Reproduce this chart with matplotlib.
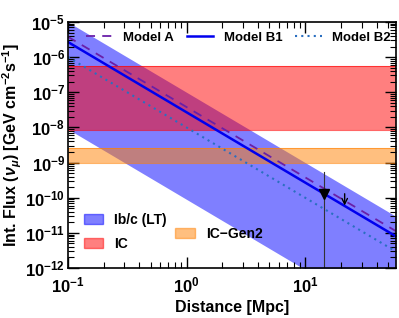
import numpy as np
import matplotlib
matplotlib.use("Agg")
import matplotlib.pyplot as plt
from matplotlib.patches import Patch
from matplotlib.lines import Line2D

plt.rcParams['font.family'] = ['Liberation Sans', 'DejaVu Sans']
plt.rcParams['font.weight'] = 'bold'
plt.rcParams['mathtext.fontset'] = 'custom'
plt.rcParams['mathtext.rm'] = 'Liberation Sans:bold'
plt.rcParams['mathtext.it'] = 'Liberation Sans:bold:italic'
plt.rcParams['mathtext.bf'] = 'Liberation Sans:bold'

# distance range [Mpc]
d_min, d_max = 0.1, 58.0
# flux normalisation at 0.1 Mpc, all scale as d^-2
norm_A = 3.8e-6
norm_B1 = 2.7e-6
norm_B2 = 1.0e-6
band_hi = 1.0e-5
band_lo = 9.0e-9
# sensitivity bands
ic_band = [8.5e-9, 5.5e-7]
gen2_band = [1.0e-9, 2.6e-9]
# SN distance and measured point
sn_dist = 14.4
sn_line_top = 5.5e-10
arrow_dist = 21.5
arrow_top, arrow_bot = 1.3e-10, 6.0e-11

d = np.logspace(np.log10(d_min), np.log10(d_max), 200)
scale = (d / 0.1) ** -2

fig = plt.figure(figsize=(3.99, 3.18), dpi=100)
ax = fig.add_axes([0.170, 0.157, 0.822, 0.774])

ax.fill_between(d, band_lo * scale, band_hi * scale, color='blue', alpha=0.5, lw=0)
ax.axhspan(ic_band[0], ic_band[1], color='red', alpha=0.5, lw=0)
for v in ic_band:
    ax.axhline(v, color='red', lw=0.8, alpha=0.6)
ax.axhspan(gen2_band[0], gen2_band[1], color='#ff8000', alpha=0.5, lw=0)
for v in gen2_band:
    ax.axhline(v, color='#ff8000', lw=0.8, alpha=0.6)

ax.plot(d, norm_A * scale, color='#6a1fa8', ls=(0, (5, 4)), lw=1.3)
ax.plot(d, norm_B1 * scale, color='#0000ee', lw=1.8)
ax.plot(d, norm_B2 * scale, color='#2a6fc0', ls=(0, (1, 2)), lw=1.5)

ax.plot([sn_dist, sn_dist], [1e-12, sn_line_top], color='#333333', lw=0.8)
ax.plot(sn_dist, norm_B1 * (sn_dist / 0.1) ** -2, marker='v', color='black', ms=7)
ax.annotate('', xy=(arrow_dist, arrow_bot), xytext=(arrow_dist, arrow_top),
            arrowprops=dict(arrowstyle='->', color='black', lw=1.0,
                            mutation_scale=10, shrinkA=0, shrinkB=0))

ax.set_xscale('log')
ax.set_yscale('log')
ax.set_xlim(d_min, d_max)
ax.set_ylim(1e-12, 1e-5)
ax.set_xlabel('Distance [Mpc]', fontsize=11.5, fontweight='bold', labelpad=4)
ax.set_ylabel(r'Int. Flux ($\nu_\mu$) [GeV cm$^{-2}$s$^{-1}$]', fontsize=11.5,
              fontweight='bold', labelpad=1)
ax.tick_params(which='both', direction='in', top=True, right=True, labelsize=12)
ax.tick_params(which='major', length=8, width=1.0)
ax.tick_params(which='minor', length=4, width=0.8)
ax.tick_params(axis='x', pad=5)
ax.tick_params(axis='y', pad=2)
for s in ax.spines.values():
    s.set_linewidth(1.2)

h_top = [Line2D([], [], color='#6a1fa8', ls=(0, (5, 4)), lw=1.3),
         Line2D([], [], color='#0000ee', lw=1.8),
         Line2D([], [], color='#2a6fc0', ls=(0, (1, 2)), lw=1.5)]
leg1 = ax.legend(h_top, ['Model A', 'Model B1', 'Model B2'], loc='upper center',
                 ncol=3, frameon=False, fontsize=9.5, handlelength=2.0,
                 columnspacing=1.0, handletextpad=0.8, bbox_to_anchor=(0.52, 1.01))
ax.add_artist(leg1)

h_bands = [Patch(facecolor='blue', alpha=0.5, edgecolor='blue'),
           Patch(facecolor='red', alpha=0.5, edgecolor='red')]
leg2 = ax.legend(h_bands, ['Ib/c (LT)', 'IC'], loc='lower left', frameon=False,
                 fontsize=10, bbox_to_anchor=(0.01, 0.02), handlelength=1.4,
                 labelspacing=0.7)
ax.add_artist(leg2)
h_gen2 = [Patch(facecolor='#ff8000', alpha=0.5, edgecolor='#ff8000')]
ax.legend(h_gen2, ['IC\u2212Gen2'], loc='lower left', frameon=False, fontsize=10,
          bbox_to_anchor=(0.29, 0.06), handlelength=1.4)

fig.savefig('out.png', dpi=100)
